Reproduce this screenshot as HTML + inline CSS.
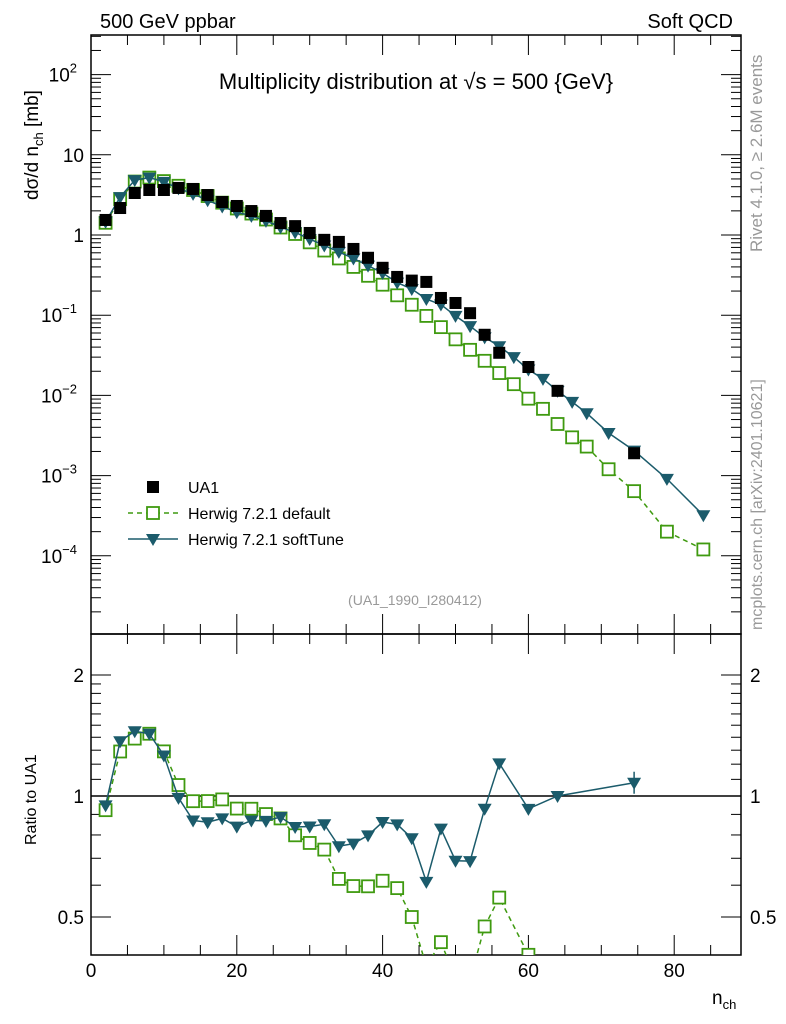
<!DOCTYPE html>
<html><head><meta charset="utf-8">
<style>
body{margin:0;background:#fff;}
svg{display:block;font-family:"Liberation Sans",sans-serif;}
</style></head>
<body>
<svg id="c" width="786" height="1024" viewBox="0 0 786 1024">
<rect x="0" y="0" width="786" height="1024" fill="#fff"/>
<text x="100" y="28" font-size="20">500 GeV ppbar</text>
<text x="733" y="28" font-size="20" text-anchor="end">Soft QCD</text>
<text x="416" y="89" font-size="22" text-anchor="middle">Multiplicity distribution at √s = 500 {GeV}</text>
<text x="415" y="605" font-size="14" fill="#999" text-anchor="middle">(UA1_1990_I280412)</text>
<text transform="translate(762,252) rotate(-90)" font-size="17" fill="#999">Rivet 4.1.0, ≥ 2.6M events</text>
<text transform="translate(762,630) rotate(-90)" font-size="16" fill="#999">mcplots.cern.ch [arXiv:2401.10621]</text>
<text transform="translate(38,200) rotate(-90)" font-size="19">dσ/d n<tspan font-size="13" dy="5">ch</tspan><tspan dy="-5"> [mb]</tspan></text>
<text transform="translate(36,845) rotate(-90)" font-size="16">Ratio to UA1</text>
<text x="712" y="1004" font-size="19">n<tspan font-size="13" dy="5">ch</tspan></text>
<g id="g"></g>
</svg>
<script>
const nchUA1=[2,4,6,8,10,12,14,16,18,20,22,24,26,28,30,32,34,36,38,40,42,44,46,48,50,52,54,56,60,64,74.5];
const valUA1=[1.54,2.17,3.34,3.64,3.64,3.86,3.75,3.15,2.58,2.30,1.99,1.73,1.41,1.29,1.06,0.87,0.82,0.67,0.52,0.39,0.30,0.27,0.26,0.164,0.142,0.106,0.057,0.034,0.0226,0.0114,0.0019];
const nchMC=[2,4,6,8,10,12,14,16,18,20,22,24,26,28,30,32,34,36,38,40,42,44,46,48,50,52,54,56,58,60,62,64,66,68,71,74.5,79,84];
const valSoft=[1.46,2.97,4.84,5.2,4.59,3.82,3.26,2.71,2.27,1.93,1.73,1.50,1.25,1.08,0.89,0.74,0.615,0.51,0.415,0.336,0.255,0.212,0.159,0.136,0.098,0.073,0.053,0.041,0.030,0.021,0.0161,0.0114,0.0083,0.0060,0.0034,0.00205,0.00091,0.00032];
const valDef=[1.42,2.80,4.64,5.2,4.7,4.11,3.64,3.06,2.53,2.14,1.85,1.56,1.24,1.03,0.81,0.64,0.51,0.40,0.31,0.24,0.177,0.135,0.098,0.071,0.050,0.037,0.027,0.019,0.0138,0.0091,0.0068,0.0044,0.0030,0.0023,0.0012,0.00064,0.00020,0.00012];
const xTicks=[0,20,40,60,80];

const NS="http://www.w3.org/2000/svg";
const g=document.getElementById('g');
const L=91,R=741,T=35,B=634,RT=634,RB=955;
const X=v=>L+v*7.29;
const Y=v=>235-80.2*Math.log10(v);
const YR=v=>796-402*Math.log10(v);
function el(t,a,p){const e=document.createElementNS(NS,t);for(const k in a)e.setAttribute(k,a[k]);(p||g).appendChild(e);return e;}
const GREEN="#3f9a10",TEAL="#1b5b6b";

let f1=el('rect',{x:L,y:T,width:R-L,height:B-T,fill:'none',stroke:'#000','stroke-width':1.5});


let f2=el('rect',{x:L,y:RT,width:R-L,height:RB-RT,fill:'none',stroke:'#000','stroke-width':1.5});



for(let v=0;v<=85;v+=5){
  const maj=v%20===0, len=maj?20:10, x=X(v);
  el('line',{x1:x,x2:x,y1:B,y2:B-len,stroke:'#000'});
  el('line',{x1:x,x2:x,y1:T,y2:T+len,stroke:'#000'});
  el('line',{x1:x,x2:x,y1:RB,y2:RB-len,stroke:'#000'});
  el('line',{x1:x,x2:x,y1:RT,y2:RT+len,stroke:'#000'});
}
xTicks.forEach(v=>{const t=el('text',{x:X(v),y:977,'font-size':19,'text-anchor':'middle'});t.textContent=v;

});

for(let d=-5;d<=2;d++){
  for(let m=1;m<=9;m++){
    const v=m*Math.pow(10,d), y=Y(v);
    if(y<T||y>B)continue;
    const len=m===1?20:10;
    el('line',{x1:L,x2:L+len,y1:y,y2:y,stroke:'#000'});
    el('line',{x1:R,x2:R-len,y1:y,y2:y,stroke:'#000'});
  }
}
const ylabs=[[2,'10','2'],[1,'10',''],[0,'1',''],[-1,'10','−1'],[-2,'10','−2'],[-3,'10','−3'],[-4,'10','−4']];
ylabs.forEach(([d,b,e])=>{
  const t=el('text',{x:e?77:84,y:Y(Math.pow(10,d))+7,'font-size':19,'text-anchor':'end'});
  t.textContent=b;
  
  
  if(e){const s=el('tspan',{'font-size':13,dy:-9},t);s.textContent=e;}
});

[0.5,0.6,0.7,0.8,0.9,1,1.1,1.2,1.3,1.4,1.5,1.6,1.7,1.8,1.9,2].forEach(v=>{
  const y=YR(v), maj=(v===0.5||v===1||v===2), len=maj?20:10;
  el('line',{x1:L,x2:L+len,y1:y,y2:y,stroke:'#000'});
  el('line',{x1:R,x2:R-len,y1:y,y2:y,stroke:'#000'});
});
[[2,'2'],[1,'1'],[0.5,'0.5']].forEach(([v,s])=>{
  let t=el('text',{x:84,y:YR(v)+7,'font-size':19,'text-anchor':'end'});t.textContent=s;
  
  
  t=el('text',{x:750,y:YR(v)+7,'font-size':19});t.textContent=s;
  
  
});
el('line',{x1:L,x2:R,y1:YR(1),y2:YR(1),stroke:'#000','stroke-width':1.5});

function sq(x,y,open,col,p){return el('rect',{x:x-6,y:y-6,width:12,height:12,fill:open?'#fff':col,stroke:col,'stroke-width':open?1.8:0},p);}
function tri(x,y,col,p){return el('path',{d:`M${x-7},${y-5}L${x+7},${y-5}L${x},${y+7}Z`,fill:col},p);}

const defs=el('defs',{});
const cp=el('clipPath',{id:'cm'},defs);el('rect',{x:L,y:T,width:R-L,height:B-T},cp);
const cp2=el('clipPath',{id:'cr'},defs);el('rect',{x:L,y:RT,width:R-L,height:RB-RT},cp2);
const gm=el('g',{'clip-path':'url(#cm)'});
const gr=el('g',{'clip-path':'url(#cr)'});

let p=el('polyline',{points:nchMC.map((n,i)=>X(n)+','+Y(valDef[i])).join(' '),fill:'none',stroke:GREEN,'stroke-width':1.5,'stroke-dasharray':'5,4'},gm);


nchMC.forEach((n,i)=>{const m=sq(X(n),Y(valDef[i]),true,GREEN,gm);

});
p=el('polyline',{points:nchMC.map((n,i)=>X(n)+','+Y(valSoft[i])).join(' '),fill:'none',stroke:TEAL,'stroke-width':1.5},gm);


nchMC.forEach((n,i)=>{const m=tri(X(n),Y(valSoft[i]),TEAL,gm);

});
nchUA1.forEach((n,i)=>{const m=sq(X(n),Y(valUA1[i]),false,'#000',gm);

});

function ratio(vals){const pts=[];nchUA1.forEach((n,i)=>{const j=nchMC.indexOf(n);if(j>=0)pts.push([n,vals[j]/valUA1[i]]);});return pts;}
const rd=ratio(valDef), rs=ratio(valSoft);
p=el('polyline',{points:rd.map(q=>X(q[0])+','+YR(q[1])).join(' '),fill:'none',stroke:GREEN,'stroke-width':1.5,'stroke-dasharray':'5,4'},gr);


rd.forEach(q=>{const m=sq(X(q[0]),YR(q[1]),true,GREEN,gr);

});
p=el('polyline',{points:rs.map(q=>X(q[0])+','+YR(q[1])).join(' '),fill:'none',stroke:TEAL,'stroke-width':1.5},gr);


rs.forEach(q=>{const m=tri(X(q[0]),YR(q[1]),TEAL,gr);

});
// error bar on last ratio point
const lastS=rs[rs.length-1];
el('line',{x1:X(lastS[0]),x2:X(lastS[0]),y1:YR(lastS[1])-11,y2:YR(lastS[1])+11,stroke:TEAL,'stroke-width':1.5},gr);

const lg=el('g',{});


sq(153,487,false,'#000',lg);
el('line',{x1:128,x2:178,y1:513,y2:513,stroke:GREEN,'stroke-width':1.5,'stroke-dasharray':'5,4'},lg);
sq(153,513,true,GREEN,lg);
el('line',{x1:128,x2:178,y1:539,y2:539,stroke:TEAL,'stroke-width':1.5},lg);
tri(153,539,TEAL,lg);
[['UA1',487,'legend-entry-ua1'],['Herwig 7.2.1 default',513,'legend-entry-default'],['Herwig 7.2.1 softTune',539,'legend-entry-softtune']].forEach(([s,y,nm])=>{
  const t=el('text',{x:188,y:y+6,'font-size':16},lg);t.textContent=s;
  
  
});
</script>
</body></html>
